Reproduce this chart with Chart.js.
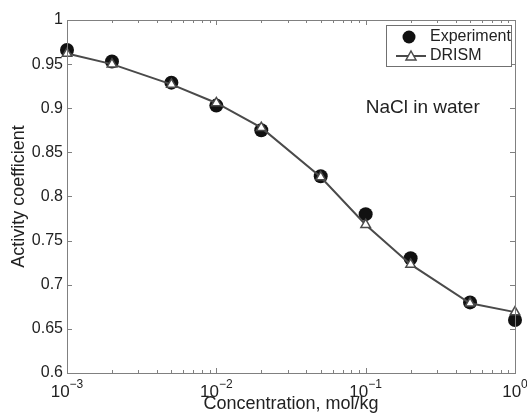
<!DOCTYPE html>
<html>
<head>
<meta charset="utf-8">
<script src="https://cdn.jsdelivr.net/npm/chart.js@4/dist/chart.umd.min.js"></script>
<style>
  html, body { margin: 0; padding: 0; background: #fff; }
  #wrap { width: 527px; height: 415px; }
</style>
</head>
<body>
<div id="wrap"><canvas id="activityChart"></canvas></div>
<script>
// concentrations, mol/kg
const concentrations = [0.001, 0.002, 0.005, 0.01, 0.02, 0.05, 0.1, 0.2, 0.5, 1];
const experiment = [0.966, 0.953, 0.929, 0.903, 0.875, 0.823, 0.780, 0.730, 0.680, 0.660];
const drism = [0.962, 0.950, 0.927, 0.906, 0.878, 0.822, 0.768, 0.723, 0.679, 0.669];

const xMajorTicks = [0.001, 0.01, 0.1, 1];
const xMinorTicks = [0.002, 0.003, 0.004, 0.005, 0.006, 0.007, 0.008, 0.009,
                     0.02, 0.03, 0.04, 0.05, 0.06, 0.07, 0.08, 0.09,
                     0.2, 0.3, 0.4, 0.5, 0.6, 0.7, 0.8, 0.9];
const yTicks = [0.6, 0.65, 0.7, 0.75, 0.8, 0.85, 0.9, 0.95, 1];
const yTickLabels = ['0.6', '0.65', '0.7', '0.75', '0.8', '0.85', '0.9', '0.95', '1'];

const FONT = 'Arial, "Liberation Sans", Helvetica, sans-serif';
const AXIS_COLOR = '#808080';
const LINE_COLOR = '#4a4a4a';

// frame, inward ticks, power-of-ten labels, legend and annotation
const matlabAxes = {
    id: 'matlabAxes',
    afterDraw(chart) {
        const ctx = chart.ctx;
        const area = chart.chartArea;
        const xs = chart.scales.x;
        const ys = chart.scales.y;
        ctx.save();
        ctx.strokeStyle = AXIS_COLOR;
        ctx.lineWidth = 1;
        ctx.strokeRect(area.left + 0.5, area.top + 0.5, area.right - area.left, area.bottom - area.top);

        ctx.beginPath();
        const tick = (v, len) => {
            const px = Math.round(xs.getPixelForValue(v)) + 0.5;
            ctx.moveTo(px, area.bottom);
            ctx.lineTo(px, area.bottom - len);
            ctx.moveTo(px, area.top);
            ctx.lineTo(px, area.top + len);
        };
        xMinorTicks.forEach(v => tick(v, 3));
        xMajorTicks.forEach(v => tick(v, 5));
        yTicks.forEach(v => {
            const py = Math.round(ys.getPixelForValue(v)) + 0.5;
            ctx.moveTo(area.left, py);
            ctx.lineTo(area.left + 5, py);
            ctx.moveTo(area.right, py);
            ctx.lineTo(area.right - 5, py);
        });
        ctx.stroke();

        // x tick labels as 10 with raised exponent
        ctx.fillStyle = '#222';
        ctx.textBaseline = 'alphabetic';
        xMajorTicks.forEach(v => {
            const exp = String(Math.round(Math.log10(v)));
            const expText = exp.replace('-', '\u2212');
            ctx.font = '17px ' + FONT;
            const wBase = ctx.measureText('10').width;
            ctx.font = '12px ' + FONT;
            const wExp = ctx.measureText(expText).width;
            const px = xs.getPixelForValue(v);
            const x0 = px - (wBase + wExp) / 2;
            ctx.font = '17px ' + FONT;
            ctx.textAlign = 'left';
            ctx.fillText('10', x0, area.bottom + 24);
            ctx.font = '12px ' + FONT;
            ctx.fillText(expText, x0 + wBase, area.bottom + 15);
        });

        // annotation
        ctx.font = '19px ' + FONT;
        ctx.fillStyle = '#222';
        ctx.textAlign = 'left';
        ctx.textBaseline = 'middle';
        ctx.fillText('NaCl in water', xs.getPixelForValue(0.1), ys.getPixelForValue(0.9));

        // legend box
        const bx = 386, by = 25, bw = 125, bh = 41;
        ctx.fillStyle = '#fff';
        ctx.fillRect(bx, by, bw, bh);
        ctx.strokeStyle = '#707070';
        ctx.lineWidth = 1;
        ctx.strokeRect(bx + 0.5, by + 0.5, bw, bh);
        ctx.font = '16px ' + FONT;
        ctx.fillStyle = '#222';
        ctx.textBaseline = 'middle';
        ctx.fillText(chart.data.datasets[1].label, 430, by + 12);
        ctx.fillText(chart.data.datasets[0].label, 430, by + 31);
        // experiment marker
        ctx.beginPath();
        ctx.fillStyle = '#111';
        ctx.arc(409, by + 12, 6.5, 0, Math.PI * 2);
        ctx.fill();
        // drism line + triangle
        ctx.strokeStyle = LINE_COLOR;
        ctx.lineWidth = 2;
        ctx.beginPath();
        ctx.moveTo(396, by + 31);
        ctx.lineTo(426, by + 31);
        ctx.stroke();
        ctx.beginPath();
        ctx.lineWidth = 1.5;
        ctx.fillStyle = '#fff';
        const tx = 411, ty = by + 31;
        ctx.moveTo(tx, ty - 5);
        ctx.lineTo(tx + 5, ty + 4);
        ctx.lineTo(tx - 5, ty + 4);
        ctx.closePath();
        ctx.fill();
        ctx.stroke();
        ctx.restore();
    }
};

new Chart(document.getElementById('activityChart'), {
    type: 'line',
    data: {
        datasets: [{
            label: 'DRISM',
            data: concentrations.map((c, i) => ({ x: c, y: drism[i] })),
            borderColor: LINE_COLOR,
            borderWidth: 2,
            pointStyle: 'triangle',
            pointRadius: 5.5,
            pointBackgroundColor: '#fff',
            pointBorderColor: LINE_COLOR,
            pointBorderWidth: 1.5,
            tension: 0,
            order: 1
        }, {
            label: 'Experiment',
            data: concentrations.map((c, i) => ({ x: c, y: experiment[i] })),
            showLine: false,
            pointStyle: 'circle',
            pointRadius: 7,
            pointBackgroundColor: '#111',
            pointBorderColor: '#111',
            pointBorderWidth: 0,
            order: 2
        }]
    },
    options: {
        responsive: true,
        maintainAspectRatio: false,
        animation: false,
        events: [],
        clip: false,
        layout: { padding: { top: 20, right: 12, bottom: 0, left: 0 } },
        plugins: {
            legend: { display: false },
            tooltip: { enabled: false }
        },
        scales: {
            x: {
                type: 'logarithmic',
                min: 0.001,
                max: 1,
                grid: { display: false },
                border: { display: false },
                ticks: { display: false },
                afterFit: s => { s.height = 42; },
                title: {
                    display: true,
                    text: 'Concentration, mol/kg',
                    color: '#222',
                    font: { family: FONT, size: 18 },
                    padding: { top: 0, bottom: 0 }
                }
            },
            y: {
                min: 0.6,
                max: 1,
                afterBuildTicks: s => { s.ticks = yTicks.map(v => ({ value: v })); },
                grid: { display: false, drawTicks: false },
                border: { display: false },
                ticks: {
                    color: '#222',
                    font: { family: FONT, size: 16 },
                    padding: 4,
                    callback: (v, i) => yTickLabels[i]
                },
                afterFit: s => { s.width = 67; },
                title: {
                    display: true,
                    text: 'Activity coefficient',
                    color: '#222',
                    font: { family: FONT, size: 18 },
                    padding: { top: 8, bottom: 0 }
                }
            }
        }
    },
    plugins: [matlabAxes]
});
</script>
</body>
</html>
